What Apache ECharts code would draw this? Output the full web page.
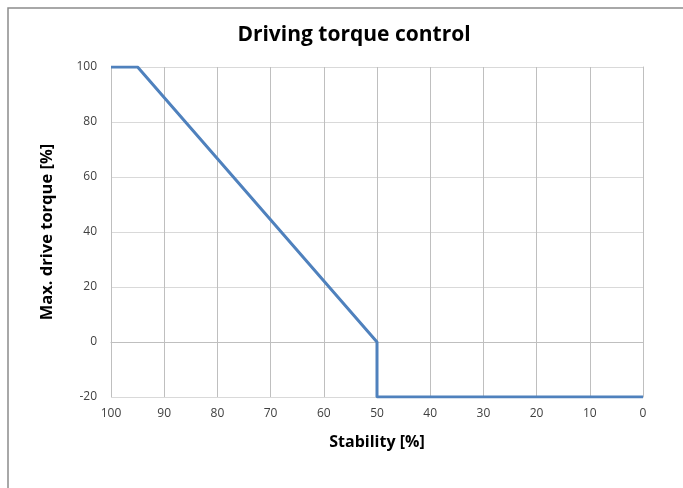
<!DOCTYPE html>
<html>
<head>
<meta charset="utf-8">
<script src="https://cdn.jsdelivr.net/npm/echarts@6/dist/echarts.min.js"></script>
<style>
  html, body { margin: 0; padding: 0; background: #fff; }
  #chart { width: 683px; height: 488px; }
</style>
</head>
<body>
<div id="chart"></div>
<script>
// stability [%] vs max drive torque [%]
const stability = [100, 95, 50, 50, 0]
const torque = [100, 100, 0, -20, -20]
const xTicks = [0, 10, 20, 30, 40, 50, 60, 70, 80, 90, 100]
const yTicks = [-20, 0, 20, 40, 60, 80, 100]

const chart = echarts.init(document.getElementById('chart'))
const font = '"Open Sans", "Liberation Sans", sans-serif'

chart.setOption({
  animation: false,
  title: {
    text: 'Driving torque control',
    left: 349,
    top: 20,
    textAlign: 'center',
    textStyle: { fontFamily: font, fontSize: 21, fontWeight: 'bold', color: '#000' }
  },
  graphic: [{
    type: 'polyline',
    shape: { points: [[8, 488], [8, 8], [683, 8]] },
    style: { stroke: '#8c8c8c', lineWidth: 1.5, fill: null }
  }],
  grid: { left: 111, right: 40, top: 67, bottom: 91 },
  xAxis: {
    type: 'value',
    inverse: true,
    min: xTicks[0],
    max: xTicks[xTicks.length - 1],
    interval: 10,
    name: 'Stability [%]',
    nameLocation: 'middle',
    nameGap: 37,
    nameTextStyle: { fontFamily: font, fontSize: 16, fontWeight: 'bold', color: '#000' },
    axisLine: { show: true, lineStyle: { color: '#bfbfbf' } },
    axisTick: { show: false },
    axisLabel: { fontFamily: font, fontSize: 12, color: '#404040', margin: 11 },
    splitLine: { show: true, lineStyle: { color: '#bfbfbf', width: 1 } }
  },
  yAxis: {
    type: 'value',
    min: yTicks[0],
    max: yTicks[yTicks.length - 1],
    interval: 20,
    name: 'Max. drive torque [%]',
    nameLocation: 'middle',
    nameGap: 55,
    nameTextStyle: { fontFamily: font, fontSize: 16.5, fontWeight: 'bold', color: '#000' },
    axisLine: { show: true, lineStyle: { color: '#bfbfbf' } },
    axisTick: { show: false },
    axisLabel: { fontFamily: font, fontSize: 12, color: '#404040', margin: 14 },
    splitLine: { show: true, lineStyle: { color: '#d9d9d9', width: 1 } }
  },
  series: [{
    type: 'line',
    data: stability.map((s, i) => [s, torque[i]]),
    showSymbol: false,
    lineStyle: { color: '#4F81BD', width: 3 },
    itemStyle: { color: '#4F81BD' }
  }]
})
</script>
</body>
</html>
